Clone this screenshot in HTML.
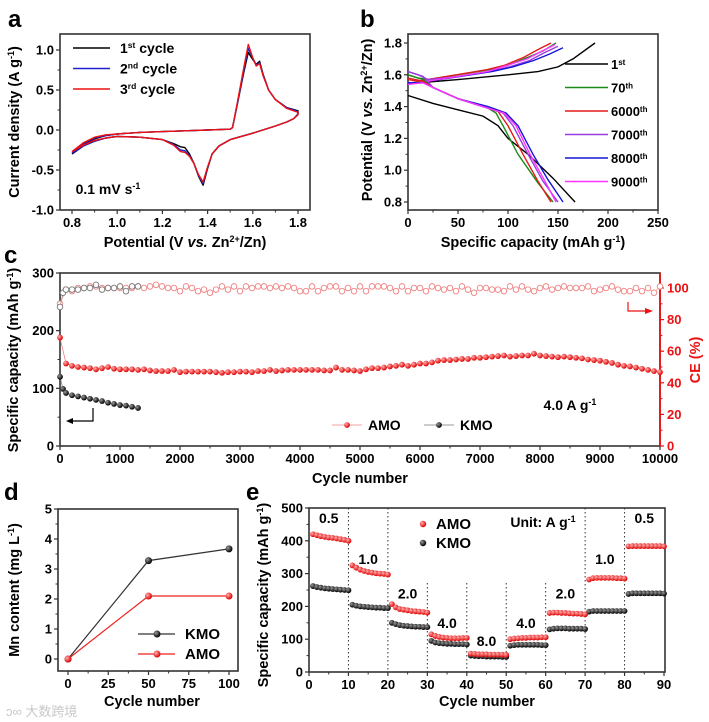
<!DOCTYPE html>
<html><head><meta charset="utf-8">
<style>
html,body{margin:0;padding:0;background:#fff;}
svg{display:block;font-family:"Liberation Sans",Arial,"Noto Sans CJK SC",sans-serif;font-weight:bold;}
</style></head>
<body>
<svg id="fig" width="709" height="722" viewBox="0 0 709 722" xmlns="http://www.w3.org/2000/svg">
<defs>
<radialGradient id="gr" cx="35%" cy="35%" r="65%"><stop offset="0" stop-color="#ffb0b0"/><stop offset="1" stop-color="#e00000"/></radialGradient>
<radialGradient id="gk" cx="35%" cy="35%" r="65%"><stop offset="0" stop-color="#999"/><stop offset="1" stop-color="#000"/></radialGradient>
</defs>
<text x="8" y="27" font-size="24">a</text>
<text x="360" y="27" font-size="24">b</text>
<text x="4" y="263" font-size="24">c</text>
<text x="4" y="500" font-size="24">d</text>
<text x="246" y="500" font-size="24">e</text>
<text x="6" y="716" font-size="13" fill="#c8c8c8" font-weight="normal">ↄ∞ 大数跨境</text>
</svg>
<script>
// ===== Panel a data (CV) =====
const cvPotential=[0.8,0.85,0.9,0.95,1.0,1.1,1.2,1.3,1.4,1.5,1.51,1.53,1.56,1.58,1.6,1.615,1.63,1.645,1.67,1.7,1.75,1.8,
1.8,1.78,1.75,1.7,1.6,1.5,1.45,1.42,1.4,1.38,1.36,1.34,1.32,1.3,1.28,1.25,1.2,1.1,1.0,0.95,0.9,0.85,0.8];
const cvCycle1=[-0.3,-0.18,-0.11,-0.07,-0.05,-0.03,-0.02,-0.01,0,0.01,0.03,0.3,0.72,0.97,0.88,0.82,0.86,0.7,0.5,0.38,0.28,0.24,
0.2,0.14,0.1,0.05,-0.04,-0.12,-0.2,-0.3,-0.48,-0.69,-0.58,-0.42,-0.3,-0.22,-0.21,-0.17,-0.12,-0.09,-0.08,-0.1,-0.14,-0.2,-0.3];
const cvCycle2=[-0.29,-0.17,-0.1,-0.07,-0.05,-0.03,-0.02,-0.01,0,0.01,0.03,0.31,0.75,1.02,0.9,0.81,0.84,0.69,0.5,0.38,0.28,0.23,
0.2,0.14,0.1,0.05,-0.04,-0.12,-0.2,-0.3,-0.47,-0.67,-0.57,-0.42,-0.32,-0.26,-0.25,-0.18,-0.12,-0.09,-0.08,-0.1,-0.14,-0.2,-0.29];
const cvCycle3=[-0.27,-0.16,-0.09,-0.06,-0.05,-0.03,-0.02,-0.01,0,0.01,0.03,0.32,0.78,1.07,0.9,0.8,0.83,0.68,0.5,0.38,0.27,0.22,
0.19,0.14,0.1,0.05,-0.04,-0.12,-0.2,-0.3,-0.46,-0.65,-0.56,-0.42,-0.33,-0.28,-0.27,-0.19,-0.12,-0.09,-0.08,-0.1,-0.13,-0.19,-0.27];
const cvTicksX=[0.8,1.0,1.2,1.4,1.6,1.8];
const cvTicksY=[-1.0,-0.5,0.0,0.5,1.0];

// ===== Panel b data (GCD) =====
const gcdNames=["1st","70th","6000th","7000th","8000th","9000th"];
const gcdSup=["st","th","th","th","th","th"];
const gcdNum=["1","70","6000","7000","8000","9000"];
const gcdColors=["#000000","#1a8a1a","#e31a1a","#9a3de0","#1515d6","#ff33ff"];
const chCap1=[0,20,50,100,130,150,165,187];
const chV1=[1.55,1.555,1.57,1.6,1.62,1.65,1.7,1.8];
const chCapN=[0,10,20,50,80,100,120,135,148];
const chV70=[1.6,1.58,1.57,1.6,1.63,1.66,1.71,1.75,1.8];
const chV6000=[1.57,1.56,1.57,1.6,1.63,1.66,1.71,1.76,1.8];
const chV7000=[1.62,1.6,1.57,1.59,1.62,1.65,1.69,1.74,1.78];
const chV8000=[1.55,1.55,1.56,1.59,1.62,1.65,1.69,1.73,1.77];
const chV9000=[1.54,1.55,1.56,1.59,1.62,1.66,1.7,1.75,1.79];
const chEnd=[187,148,143,150,155,147];
const dcCap1=[0,25,50,75,90,100,120,145,167];
const dcV1=[1.47,1.42,1.38,1.34,1.28,1.2,1.1,0.95,0.8];
const dcCap70=[0,15,25,50,80,88,95,110,130,145];
const dcV70=[1.6,1.57,1.52,1.45,1.39,1.36,1.28,1.1,0.92,0.8];
const dcCap6000=[0,15,25,50,80,90,100,115,130,143];
const dcV6000=[1.58,1.56,1.52,1.45,1.39,1.37,1.28,1.1,0.93,0.8];
const dcCap7000=[0,15,25,50,80,95,105,120,135,150];
const dcV7000=[1.62,1.59,1.52,1.45,1.39,1.36,1.28,1.1,0.93,0.8];
const dcCap8000=[0,15,25,50,80,98,110,125,140,155];
const dcV8000=[1.55,1.55,1.52,1.45,1.4,1.36,1.28,1.1,0.94,0.8];
const dcCap9000=[0,15,25,50,80,96,108,122,137,148];
const dcV9000=[1.54,1.55,1.52,1.45,1.39,1.36,1.28,1.1,0.93,0.8];
const gcdTicksX=[0,50,100,150,200,250];
const gcdTicksY=[0.8,1.0,1.2,1.4,1.6,1.8];

// ===== Panel c data (long cycling) =====
const amoCycles=[0,100,200,300,400,500,600,700,800,900,1000,1100,1200,1300,1400,1500,1600,1700,1800,1900,2000,2100,2200,2300,2400,2500,2600,2700,2800,2900,3000,3100,3200,3300,3400,3500,3600,3700,3800,3900,4000,4100,4200,4300,4400,4500,4600,4700,4800,4900,5000,5100,5200,5300,5400,5500,5600,5700,5800,5900,6000,6100,6200,6300,6400,6500,6600,6700,6800,6900,7000,7100,7200,7300,7400,7500,7600,7700,7800,7900,8000,8100,8200,8300,8400,8500,8600,8700,8800,8900,9000,9100,9200,9300,9400,9500,9600,9700,9800,9900,10000];
const amoCapacity=[188,143,139,137,136,135,133,135,137,134,133,133,133,132,133,131,130,130,130,132,128,129,129,129,129,129,128,127,128,128,129,129,128,130,130,132,130,131,132,132,132,132,132,132,131,131,136,132,132,131,130,133,135,135,136,138,139,141,139,141,143,143,145,148,149,149,150,151,151,153,153,154,155,156,157,155,156,157,157,160,157,156,155,154,155,154,153,152,150,149,148,146,144,141,139,138,136,134,132,130,128];
const amoCE=[90,99,98,100,100,101,101,100,100,100,100,100,100,101,100,101,102,101,100,100,98,101,100,98,99,97,99,101,99,101,98,101,100,101,101,100,101,100,101,100,98,98,101,98,100,101,101,98,100,98,101,98,101,101,101,100,98,101,98,100,100,98,101,100,99,100,98,101,99,97,100,100,99,99,98,101,99,101,99,98,100,101,99,100,101,100,100,100,101,98,99,100,101,99,98,98,100,98,100,97,101];
const kmoCycles=[0,50,100,200,300,400,500,600,700,800,900,1000,1100,1200,1300];
const kmoCapacity=[120,99,92,88,86,84,82,80,78,75,73,71,70,68,66];
const kmoCE=[88,97,99,99,99,100,100,102,99,100,100,101,98,101,101];
const cTicksX=[0,1000,2000,3000,4000,5000,6000,7000,8000,9000,10000];
const cTicksY=[0,100,200,300];
const cTicksCE=[0,20,40,60,80,100];

// ===== Panel d data (Mn dissolution) =====
const mnCycles=[0,50,100];
const mnKMO=[0,3.28,3.67];
const mnAMO=[0,2.1,2.1];
const dTicksX=[0,25,50,75,100];
const dTicksY=[0,1,2,3,4,5];

// ===== Panel e data (rate) =====
const rateAMO=[420,417,414,412,410,409,407,405,403,400, 325,318,312,308,305,303,301,300,299,297, 207,197,192,190,188,186,185,184,183,181,
115,110,107,105,104,103,103,103,104,104, 56,55,54,54,54,53,53,53,53,52, 100,102,103,104,104,105,105,105,106,106,
180,181,181,180,180,179,178,178,177,176, 282,286,287,287,287,287,287,286,286,285, 383,384,384,384,384,384,384,384,384,383];
const rateKMO=[262,259,257,255,254,253,252,251,250,249, 205,202,200,199,198,197,196,196,195,195, 150,146,143,141,140,139,138,138,137,137,
95,90,88,87,86,86,85,85,85,84, 50,49,48,48,47,47,47,47,46,46, 80,82,83,83,83,83,83,83,82,82,
130,132,133,133,133,132,132,132,132,131, 184,186,186,186,186,186,186,186,186,186, 238,240,240,240,240,240,240,240,240,239];
const rateLabels=["0.5","1.0","2.0","4.0","8.0","4.0","2.0","1.0","0.5"];
const rateLabelY=[470,345,240,150,95,150,240,345,470];
const eTicksX=[0,10,20,30,40,50,60,70,80,90];
const eTicksY=[0,100,200,300,400,500];

const NS="http://www.w3.org/2000/svg";
const svg=document.getElementById('fig');
function mk(tag,attrs,parent){const e=document.createElementNS(NS,tag);for(const k in attrs)e.setAttribute(k,attrs[k]);(parent||svg).appendChild(e);return e;}
function lin(d0,d1,p0,p1){return v=>p0+(v-d0)*(p1-p0)/(d1-d0);}
function pathD(xs,ys,sx,sy){return xs.map((x,i)=>(i?'L':'M')+sx(x).toFixed(1)+','+sy(ys[i]).toFixed(1)).join(' ');}
function txt(x,y,s,size,anchor,fill,parent){const t=mk('text',{x:x,y:y,'font-size':size,'text-anchor':anchor||'middle',fill:fill||'#000'},parent);t.textContent=s;return t;}
function frame(x0,y0,x1,y1,name){const r=mk('rect',{x:x0,y:y0,width:x1-x0,height:y1-y0,fill:'none',stroke:'#333','stroke-width':1.6});return r;}
function xTicks(vals,sx,yb,fmt,name,minor){const g=mk('g',{});
 vals.forEach((v,i)=>{mk('line',{x1:sx(v),x2:sx(v),y1:yb,y2:yb+4,stroke:'#333','stroke-width':1.2},g);txt(sx(v),yb+17,fmt(v),13,'middle','#000',g);
  if(minor&&i<vals.length-1){const m=(v+vals[i+1])/2;mk('line',{x1:sx(m),x2:sx(m),y1:yb,y2:yb+2.5,stroke:'#333','stroke-width':1},g);}});return g;}
function yTicks(vals,sy,xl,fmt,name,minor,color,right){const g=mk('g',{});const c=color||'#333';
 vals.forEach((v,i)=>{const d=right?4:-4;mk('line',{x1:xl,x2:xl+d,y1:sy(v),y2:sy(v),stroke:c,'stroke-width':1.2},g);txt(right?xl+7:xl-6,sy(v)+4.5,fmt(v),13,right?'start':'end',color||'#000',g);
  if(minor&&i<vals.length-1){const m=(v+vals[i+1])/2;mk('line',{x1:xl,x2:xl+(right?2.5:-2.5),y1:sy(m),y2:sy(m),stroke:c,'stroke-width':1},g);}});return g;}
function rotTitle(x,y,parts,name,color){const t=mk('text',{x:0,y:0,'font-size':14.5,'text-anchor':'middle',fill:color||'#000',transform:`translate(${x},${y}) rotate(-90)`});
 parts.forEach(p=>{const s=mk('tspan',p.a||{},t);s.textContent=p.t;});return t;}
function hTitle(x,y,parts,name){const t=mk('text',{x:x,y:y,'font-size':14.5,'text-anchor':'middle'});
 parts.forEach(p=>{const s=mk('tspan',p.a||{},t);s.textContent=p.t;});return t;}
const SUP={'baseline-shift':'super','font-size':9};
const f1=v=>v.toFixed(1), f0=v=>String(v);

// ===== Panel a =====
{const sx=lin(0.8,1.8,72,298), sy=lin(-1,1,210,50);
 frame(60,34,310,210,'cv-plot-frame');
 xTicks(cvTicksX,sx,210,f1,'cv-x-axis',true);
 yTicks(cvTicksY,sy,60,f1,'cv-y-axis',true);
 const cols=['#000','#2020d0','#ee1111'], ser=[cvCycle1,cvCycle2,cvCycle3];
 ser.forEach((s,i)=>{const p=mk('path',{d:pathD(cvPotential,s,sx,sy),fill:'none',stroke:cols[i],'stroke-width':1.4,'stroke-linejoin':'round'});
  
  });
 const labs=[['1','st'],['2','nd'],['3','rd']];
 labs.forEach((l,i)=>{const g=mk('g',{});
  
  
  mk('line',{x1:73,x2:110,y1:48+i*20.5,y2:48+i*20.5,stroke:cols[i],'stroke-width':1.6},g);
  const t=mk('text',{x:120,y:53+i*20.5,'font-size':14},g);const a=mk('tspan',{},t);a.textContent=l[0];const b=mk('tspan',{'baseline-shift':'super','font-size':8.5},t);b.textContent=l[1];const c=mk('tspan',{},t);c.textContent=' cycle';});
 const st=hTitle(108,194,[{t:'0.1 mV s'},{t:'-1',a:SUP}],'cv-scan-rate-label');st.setAttribute('font-size',14);
 rotTitle(19,122,[{t:'Current density (A g'},{t:'-1',a:SUP},{t:')'}],'cv-y-axis-title');
 hTitle(185,247,[{t:'Potential (V '},{t:'vs.',a:{'font-style':'italic'}},{t:' Zn'},{t:'2+',a:SUP},{t:'/Zn)'}],'cv-x-axis-title');}

// ===== Panel b =====
{const sx=lin(0,250,408,658), sy=lin(0.8,1.8,202,43);
 frame(408,34,658,210,'gcd-plot-frame');
 xTicks(gcdTicksX,sx,210,f0,'gcd-x-axis',true);
 yTicks(gcdTicksY,sy,408,f1,'gcd-y-axis',true);
 const ch=[[chCap1,chV1],[chCapN,chV70],[chCapN,chV6000],[chCapN,chV7000],[chCapN,chV8000],[chCapN,chV9000]];
 const dc=[[dcCap1,dcV1],[dcCap70,dcV70],[dcCap6000,dcV6000],[dcCap7000,dcV7000],[dcCap8000,dcV8000],[dcCap9000,dcV9000]];
 ch.forEach((c,i)=>{const xs=i===0?c[0]:c[0].map(v=>v*chEnd[i]/148);
  const p=mk('path',{d:pathD(xs,c[1],sx,sy),fill:'none',stroke:gcdColors[i],'stroke-width':1.4});
  
  });
 dc.forEach((c,i)=>{const p=mk('path',{d:pathD(c[0],c[1],sx,sy),fill:'none',stroke:gcdColors[i],'stroke-width':1.4});
  
  });
 gcdNames.forEach((n,i)=>{const y=64+i*23.5;const g=mk('g',{});
  
  
  mk('line',{x1:565,x2:608,y1:y,y2:y,stroke:gcdColors[i],'stroke-width':1.6},g);
  const t=mk('text',{x:611,y:y+5,'font-size':13},g);const a=mk('tspan',{},t);a.textContent=gcdNum[i];const b=mk('tspan',{'baseline-shift':'super','font-size':8},t);b.textContent=gcdSup[i];});
 rotTitle(372,120,[{t:'Potential (V '},{t:'vs.',a:{'font-style':'italic'}},{t:' Zn'},{t:'2+',a:SUP},{t:'/Zn)'}],'gcd-y-axis-title');
 hTitle(533,247,[{t:'Specific capacity (mAh g'},{t:'-1',a:SUP},{t:')'}],'gcd-x-axis-title');}

// ===== Panel c =====
{const sx=lin(0,10000,60,660), sy=lin(0,300,446,273), sce=lin(0,100,446,288);
 frame(60,273,660,446,'cycling-plot-frame');
 mk('line',{x1:660,x2:660,y1:273,y2:446,stroke:'#ee1111','stroke-width':1.8});
 xTicks(cTicksX,sx,446,f0,'cycling-x-axis',true);
 yTicks(cTicksY,sy,60,f0,'cycling-y-axis-capacity',true);
 yTicks(cTicksCE,sce,660,f0,'cycling-y-axis-ce',true,'#ee1111',true);
 const pa=mk('path',{d:pathD(amoCycles,amoCE,sx,sce),fill:'none',stroke:'#f4a0a0','stroke-width':0.8});
 
 
 amoCycles.forEach((c,i)=>{const m=mk('circle',{cx:sx(c),cy:sce(amoCE[i]),r:2.8,fill:'#fff',stroke:'#f08080','stroke-width':0.9});
  
  });
 const pk=mk('path',{d:pathD(kmoCycles,kmoCE,sx,sce),fill:'none',stroke:'#999','stroke-width':0.8});
 
 
 kmoCycles.forEach((c,i)=>{const m=mk('circle',{cx:sx(c),cy:sce(kmoCE[i]),r:2.8,fill:'#fff',stroke:'#777','stroke-width':0.9});
  
  });
 const ca=mk('path',{d:pathD(amoCycles,amoCapacity,sx,sy),fill:'none',stroke:'#f08080','stroke-width':0.8});
 
 
 amoCycles.forEach((c,i)=>{const m=mk('circle',{cx:sx(c),cy:sy(amoCapacity[i]),r:2.9,fill:'url(#gr)'});
  
  });
 const ck=mk('path',{d:pathD(kmoCycles,kmoCapacity,sx,sy),fill:'none',stroke:'#888','stroke-width':0.8});
 
 
 kmoCycles.forEach((c,i)=>{const m=mk('circle',{cx:sx(c),cy:sy(kmoCapacity[i]),r:2.9,fill:'url(#gk)'});
  
  });
 const al=mk('path',{d:'M93,408 L93,421 L70,421',fill:'none',stroke:'#000','stroke-width':1.2});
 
 
 mk('path',{d:'M66,421 L73,418 L73,424 Z',fill:'#000'});
 const ar=mk('path',{d:'M628,302 L628,311 L648,311',fill:'none',stroke:'#ee1111','stroke-width':1.2});
 
 
 mk('path',{d:'M653,311 L645,308 L645,314 Z',fill:'#ee1111'});
 const lg=mk('g',{});
 
 
 mk('line',{x1:332,x2:362,y1:425,y2:425,stroke:'#f4a0a0','stroke-width':1},lg);
 mk('circle',{cx:347,cy:425,r:2.9,fill:'url(#gr)'},lg);
 txt(368,430,'AMO',14,'start','#000',lg);
 mk('line',{x1:424,x2:454,y1:425,y2:425,stroke:'#999','stroke-width':1},lg);
 mk('circle',{cx:439,cy:425,r:2.9,fill:'url(#gk)'},lg);
 txt(460,430,'KMO',14,'start','#000',lg);
 const cr=hTitle(570,410,[{t:'4.0 A g'},{t:'-1',a:SUP}],'cycling-current-density-label');cr.setAttribute('font-size',14);
 rotTitle(18,360,[{t:'Specific capacity (mAh g'},{t:'-1',a:SUP},{t:')'}],'cycling-y-axis-title');
 rotTitle(700,360,[{t:'CE (%)'}],'ce-y-axis-title','#ee1111');
 hTitle(360,483,[{t:'Cycle number'}],'cycling-x-axis-title');}

// ===== Panel d =====
{const sx=lin(0,100,68,229), sy=lin(0,5,659,509);
 frame(58,509,238,671,'mn-plot-frame');
 xTicks(dTicksX,sx,671,f0,'mn-x-axis',true);
 yTicks(dTicksY,sy,58,f0,'mn-y-axis',true);
 const lk=mk('path',{d:pathD(mnCycles,mnKMO,sx,sy),fill:'none',stroke:'#333','stroke-width':1.2});
 
 
 const la=mk('path',{d:pathD(mnCycles,mnAMO,sx,sy),fill:'none',stroke:'#ee2222','stroke-width':1.2});
 
 
 mnCycles.forEach((c,i)=>{const m=mk('circle',{cx:sx(c),cy:sy(mnKMO[i]),r:3.5,fill:'url(#gk)'});
  
  });
 mnCycles.forEach((c,i)=>{const m=mk('circle',{cx:sx(c),cy:sy(mnAMO[i]),r:3.5,fill:'url(#gr)'});
  
  });
 const lg=mk('g',{});
 
 
 mk('line',{x1:138,x2:175,y1:634,y2:634,stroke:'#333','stroke-width':1.2},lg);
 mk('circle',{cx:157,cy:634,r:3.5,fill:'url(#gk)'},lg);
 txt(185,639,'KMO',15,'start','#000',lg);
 mk('line',{x1:138,x2:175,y1:654,y2:654,stroke:'#ee2222','stroke-width':1.2},lg);
 mk('circle',{cx:157,cy:654,r:3.5,fill:'url(#gr)'},lg);
 txt(185,659,'AMO',15,'start','#000',lg);
 rotTitle(19,590,[{t:'Mn content (mg L'},{t:'-1',a:SUP},{t:')'}],'mn-y-axis-title');
 hTitle(152,706,[{t:'Cycle number'}],'mn-x-axis-title');}

// ===== Panel e =====
{const sx=lin(0,90,309,664), sy=lin(0,500,672,508);
 frame(309,508,665,672,'rate-plot-frame');
 xTicks(eTicksX,sx,672,f0,'rate-x-axis',true);
 yTicks(eTicksY,sy,309,f0,'rate-y-axis',true);
 const seg=[10,20,30,40,50,60,70,80];
 seg.forEach(c=>{const top=(c>=30&&c<=60)?583:508;
  const l=mk('line',{x1:sx(c),x2:sx(c),y1:top,y2:672,stroke:'#333','stroke-width':1,'stroke-dasharray':'1.5,2.5'});
  
  });
 rateLabels.forEach((s,i)=>{const t=txt(sx(i*10+5),sy(rateLabelY[i])+5,s,14,'middle');
  
  });
 rateKMO.forEach((v,i)=>{const m=mk('circle',{cx:sx(i+1),cy:sy(v),r:2.9,fill:'url(#gk)'});
  
  });
 rateAMO.forEach((v,i)=>{const m=mk('circle',{cx:sx(i+1),cy:sy(v),r:2.9,fill:'url(#gr)'});
  
  });
 const lg=mk('g',{});
 
 
 mk('circle',{cx:423,cy:524,r:3.2,fill:'url(#gr)'},lg);
 txt(436,529,'AMO',15,'start','#000',lg);
 mk('circle',{cx:423,cy:543,r:3.2,fill:'url(#gk)'},lg);
 txt(436,548,'KMO',15,'start','#000',lg);
 const u=hTitle(543,527,[{t:'Unit: A g'},{t:'-1',a:SUP}],'rate-unit-label');u.setAttribute('font-size',14);
 rotTitle(268,595,[{t:'Specific capacity (mAh g'},{t:'-1',a:SUP},{t:')'}],'rate-y-axis-title');
 hTitle(487,706,[{t:'Cycle number'}],'rate-x-axis-title');}
</script>
</body></html>
